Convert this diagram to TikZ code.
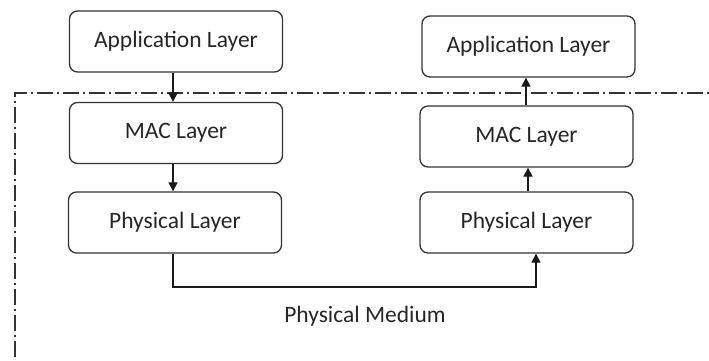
\documentclass[tikz,border=0pt]{standalone}
\usepackage{fontspec}
\setmainfont{Carlito}
\usetikzlibrary{arrows.meta}
\begin{document}
\begin{tikzpicture}[x=1pt,y=-1pt,
  layer/.style={draw=black!80, line width=1.3pt, rounded corners=8pt, minimum width=213pt, minimum height=61pt, inner sep=0pt, font=\fontsize{23.5}{27}\selectfont, text=black!85},
  conn/.style={draw=black!90, line width=1.2pt, -{Triangle[length=9pt,width=9pt]}},
  boundary/.style={draw=black!80, line width=1.2pt, dash pattern=on 16pt off 4pt on 2pt off 4pt}]
\useasboundingbox (0,0) rectangle (709,360);
\node[layer] (la) at (176,41.5) {Application Layer};
\node[layer] (lm) at (176,133) {MAC Layer};
\node[layer] (lp) at (175,222.5) {Physical Layer};
\node[layer] (ra) at (528.5,46.5) {Application Layer};
\node[layer] (rm) at (526.5,136.5) {MAC Layer};
\node[layer] (rp) at (526.5,222.5) {Physical Layer};
\node[font=\fontsize{23.5}{27}\selectfont, text=black!85] (pm) at (365,316) {Physical Medium};
\coordinate (bl) at (15,357);
\coordinate (tl) at (15,93);
\coordinate (tr) at (709,93);
\draw[boundary] (bl) -- (tl) -- (tr);
\draw[conn] (la.south -| 173,0) -- (lm.north -| 173,0);
\draw[conn] (lm.south -| 173,0) -- (lp.north -| 173,0);
\coordinate (m1) at (173,287);
\coordinate (m2) at (536,287);
\draw[conn] (lp.south -| m1) -- (m1) -- (m2) -- (rp.south -| m2);
\draw[conn] (rp.north -| 528,0) -- (rm.south -| 528,0);
\draw[conn] (rm.north -| 526,0) -- (ra.south -| 526,0);
\end{tikzpicture}
\end{document}
